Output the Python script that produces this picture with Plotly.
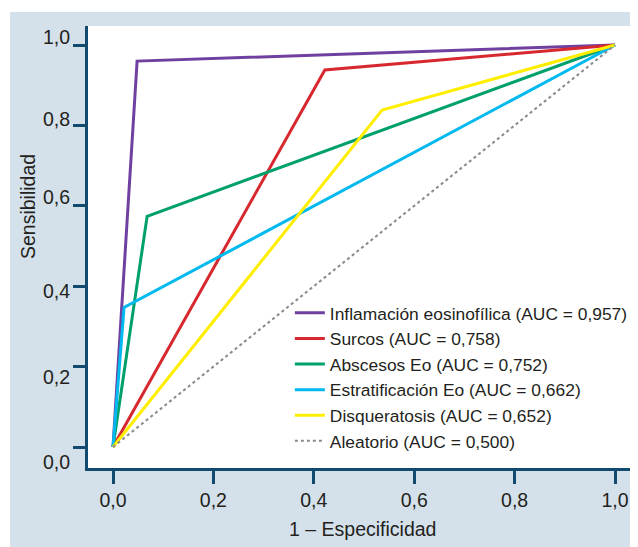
import plotly.graph_objects as go

# ---- data ----
series_names = [
    "Inflamación eosinofílica (AUC = 0,957)",
    "Surcos (AUC = 0,758)",
    "Abscesos Eo (AUC = 0,752)",
    "Estratificación Eo (AUC = 0,662)",
    "Disqueratosis (AUC = 0,652)",
]
fpr_inflamacion = [0.0, 0.048, 1.0]
tpr_inflamacion = [0.0, 0.960, 1.0]
fpr_surcos = [0.0, 0.422, 1.0]
tpr_surcos = [0.0, 0.938, 1.0]
fpr_abscesos = [0.0, 0.068, 1.0]
tpr_abscesos = [0.0, 0.574, 1.0]
fpr_estratificacion = [0.0, 0.022, 1.0]
tpr_estratificacion = [0.0, 0.347, 1.0]
fpr_disqueratosis = [0.0, 0.536, 1.0]
tpr_disqueratosis = [0.0, 0.838, 1.0]
random_name = "Aleatorio (AUC = 0,500)"
fpr_random = [0.0, 1.0]
tpr_random = [0.0, 1.0]

tick_vals = [0.0, 0.2, 0.4, 0.6, 0.8, 1.0]
tick_text = ["0,0", "0,2", "0,4", "0,6", "0,8", "1,0"]
x_title = "1 – Especificidad"
y_title = "Sensibilidad"

# ---- style ----
FONT = "Liberation Sans, Arial, sans-serif"
TXT = "#231f20"
AXIS = "#114a6e"
BG = "#d5e1ea"
colors = ["#7040a0", "#d7282f", "#00a06d", "#00b9ef", "#ffee00"]

fig = go.Figure()
xs = [fpr_inflamacion, fpr_surcos, fpr_abscesos, fpr_estratificacion, fpr_disqueratosis]
ys = [tpr_inflamacion, tpr_surcos, tpr_abscesos, tpr_estratificacion, tpr_disqueratosis]
for name, x, y, c in zip(series_names, xs, ys, colors):
    fig.add_trace(go.Scatter(x=x, y=y, mode="lines", name=name,
                             line=dict(color=c, width=3)))
fig.add_trace(go.Scatter(x=fpr_random, y=tpr_random, mode="lines", name=random_name,
                         line=dict(color="#8a8a8a", width=2, dash="dot")))

# y tick labels placed as annotations (reference labels are not centred on ticks)
label_shift = [-15, -10, -5, 9, 6, 8]
annotations = []
for v, t, s in zip(tick_vals, tick_text, label_shift):
    annotations.append(dict(x=-0.029, xref="paper", y=v, yref="y", text=t,
                            showarrow=False, xanchor="right", yanchor="middle",
                            yshift=s, font=dict(family=FONT, size=19.5, color=TXT)))
annotations.append(dict(x=-0.109, xref="paper", y=0.5905, yref="paper", text=y_title,
                        textangle=-90, showarrow=False, xanchor="center", yanchor="middle",
                        font=dict(family=FONT, size=19.5, color=TXT)))
annotations.append(dict(x=0.499, xref="paper", y=-0.138, yref="paper", text=x_title,
                        showarrow=False, xanchor="center", yanchor="middle",
                        font=dict(family=FONT, size=19.5, color=TXT)))

shapes = [
    dict(type="rect", xref="paper", yref="paper", x0=-0.2, x1=1.1, y0=1.0317, y1=1.1,
         fillcolor="white", line=dict(width=0), layer="below"),
    dict(type="rect", xref="paper", yref="paper", x0=-0.2, x1=-0.1418, y0=-0.2, y1=1.1,
         fillcolor="white", line=dict(width=0), layer="below"),
]

fig.update_layout(
    width=630, height=539,
    margin=dict(l=80, r=0, t=18, b=79, autoexpand=False),
    paper_bgcolor=BG, plot_bgcolor="white",
    font=dict(family=FONT, size=17.4, color=TXT),
    showlegend=True,
    legend=dict(x=0.367, y=0.3915, xanchor="left", yanchor="top",
                bgcolor="rgba(0,0,0,0)", font=dict(family=FONT, size=17.4, color=TXT)),
    annotations=annotations,
    shapes=shapes,
)
fig.update_xaxes(range=[-0.0498, 1.0458], tickvals=tick_vals, ticktext=tick_text,
                 showgrid=False, zeroline=False, showline=True, linecolor=AXIS, linewidth=3,
                 ticks="outside", ticklen=13, tickwidth=3, tickcolor=AXIS,
                 tickfont=dict(family=FONT, size=19.5, color=TXT))
fig.update_yaxes(range=[-0.0522, 1.0473], tickvals=tick_vals, showticklabels=False,
                 showgrid=False, zeroline=False, showline=True, linecolor=AXIS, linewidth=3,
                 ticks="outside", ticklen=12, tickwidth=3, tickcolor=AXIS)

fig.write_html("out.html")
